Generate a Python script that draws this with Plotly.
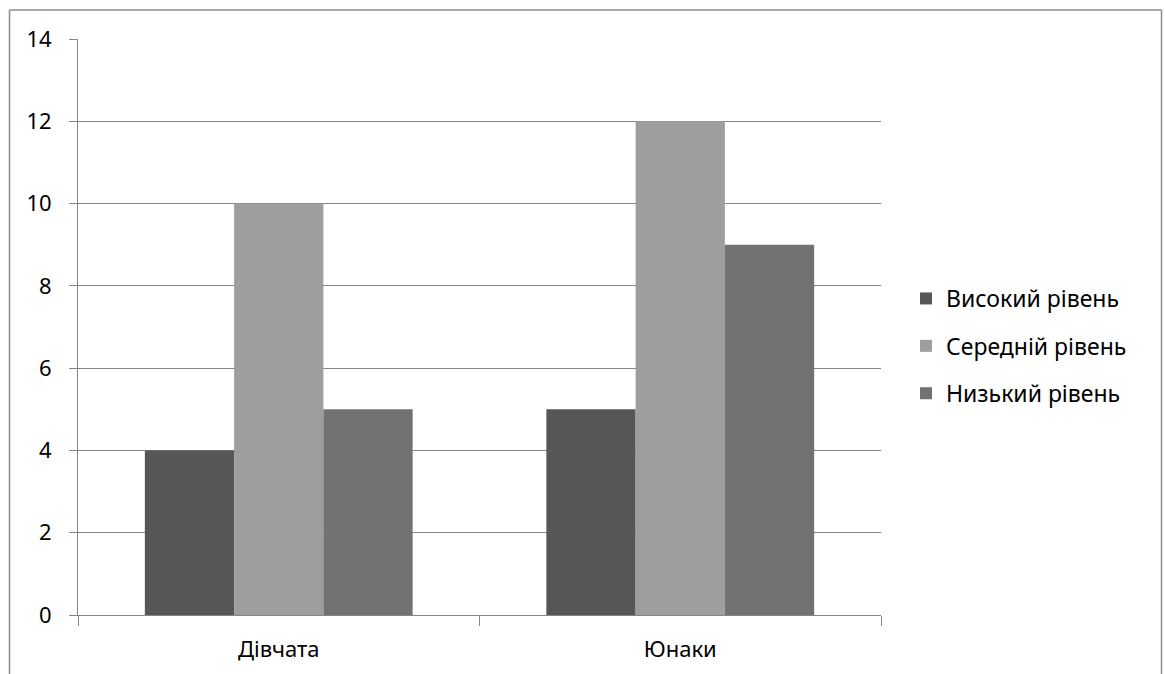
import plotly.graph_objects as go

categories = ["Дівчата", "Юнаки"]
series_names = ["Високий рівень", "Середній рівень", "Низький рівень"]
high = [4, 5]
medium = [10, 12]
low = [5, 9]
colors = ["#565656", "#9e9e9e", "#727272"]

W, H = 1165, 674
L, R, T, B = 78, 881, 39, 615
FONT = "Noto Sans"
FS = 22
LFS = 23

fig = go.Figure()
for i, (name, vals) in enumerate(zip(series_names, [high, medium, low])):
    fig.add_trace(go.Bar(
        x=categories, y=vals, name=name,
        marker=dict(color=colors[i], line=dict(width=0)),
        legendgroup=f"g{i}",
    ))

def px_x(px):
    return (px - L) / (R - L)

def px_y(py):
    return (B - py) / (B - T)

border = dict(color="#8c8c8c", width=1.5)
fig.add_shape(type="line", xref="paper", yref="paper",
              x0=px_x(9.5), x1=px_x(9.5), y0=px_y(10), y1=px_y(700), line=border)
fig.add_shape(type="line", xref="paper", yref="paper",
              x0=px_x(9.5), x1=px_x(1161.5), y0=px_y(10), y1=px_y(10), line=border)
fig.add_shape(type="line", xref="paper", yref="paper",
              x0=px_x(1161.5), x1=px_x(1161.5), y0=px_y(10), y1=px_y(700), line=border)

fig.update_layout(
    width=W, height=H,
    margin=dict(l=L, r=W - R, t=T, b=H - B),
    paper_bgcolor="white", plot_bgcolor="white",
    barmode="group", bargap=0.333, bargroupgap=0,
    font=dict(family=FONT, size=FS, color="#000000"),
    showlegend=True,
    legend=dict(x=px_x(906), xanchor="left", y=px_y(277), yanchor="top",
                font=dict(family=FONT, size=LFS, color="#000000"),
                tracegroupgap=14.5, itemwidth=30, bgcolor="rgba(0,0,0,0)"),
    xaxis=dict(
        type="category", tickson="boundaries", ticks="outside", ticklen=10,
        tickcolor="#868686", showline=True, linecolor="#868686", linewidth=1,
        showgrid=False, tickfont=dict(family=FONT, size=FS),
        ticklabelstandoff=15,
    ),
    yaxis=dict(
        range=[0, 14], dtick=2, tick0=0, ticks="outside", ticklen=8,
        tickcolor="#868686", showline=True, linecolor="#868686", linewidth=1,
        showgrid=True, gridcolor="#868686", gridwidth=1, zeroline=False,
        tickfont=dict(family=FONT, size=FS), ticklabelstandoff=13,
    ),
)

fig.write_html("out.html")
